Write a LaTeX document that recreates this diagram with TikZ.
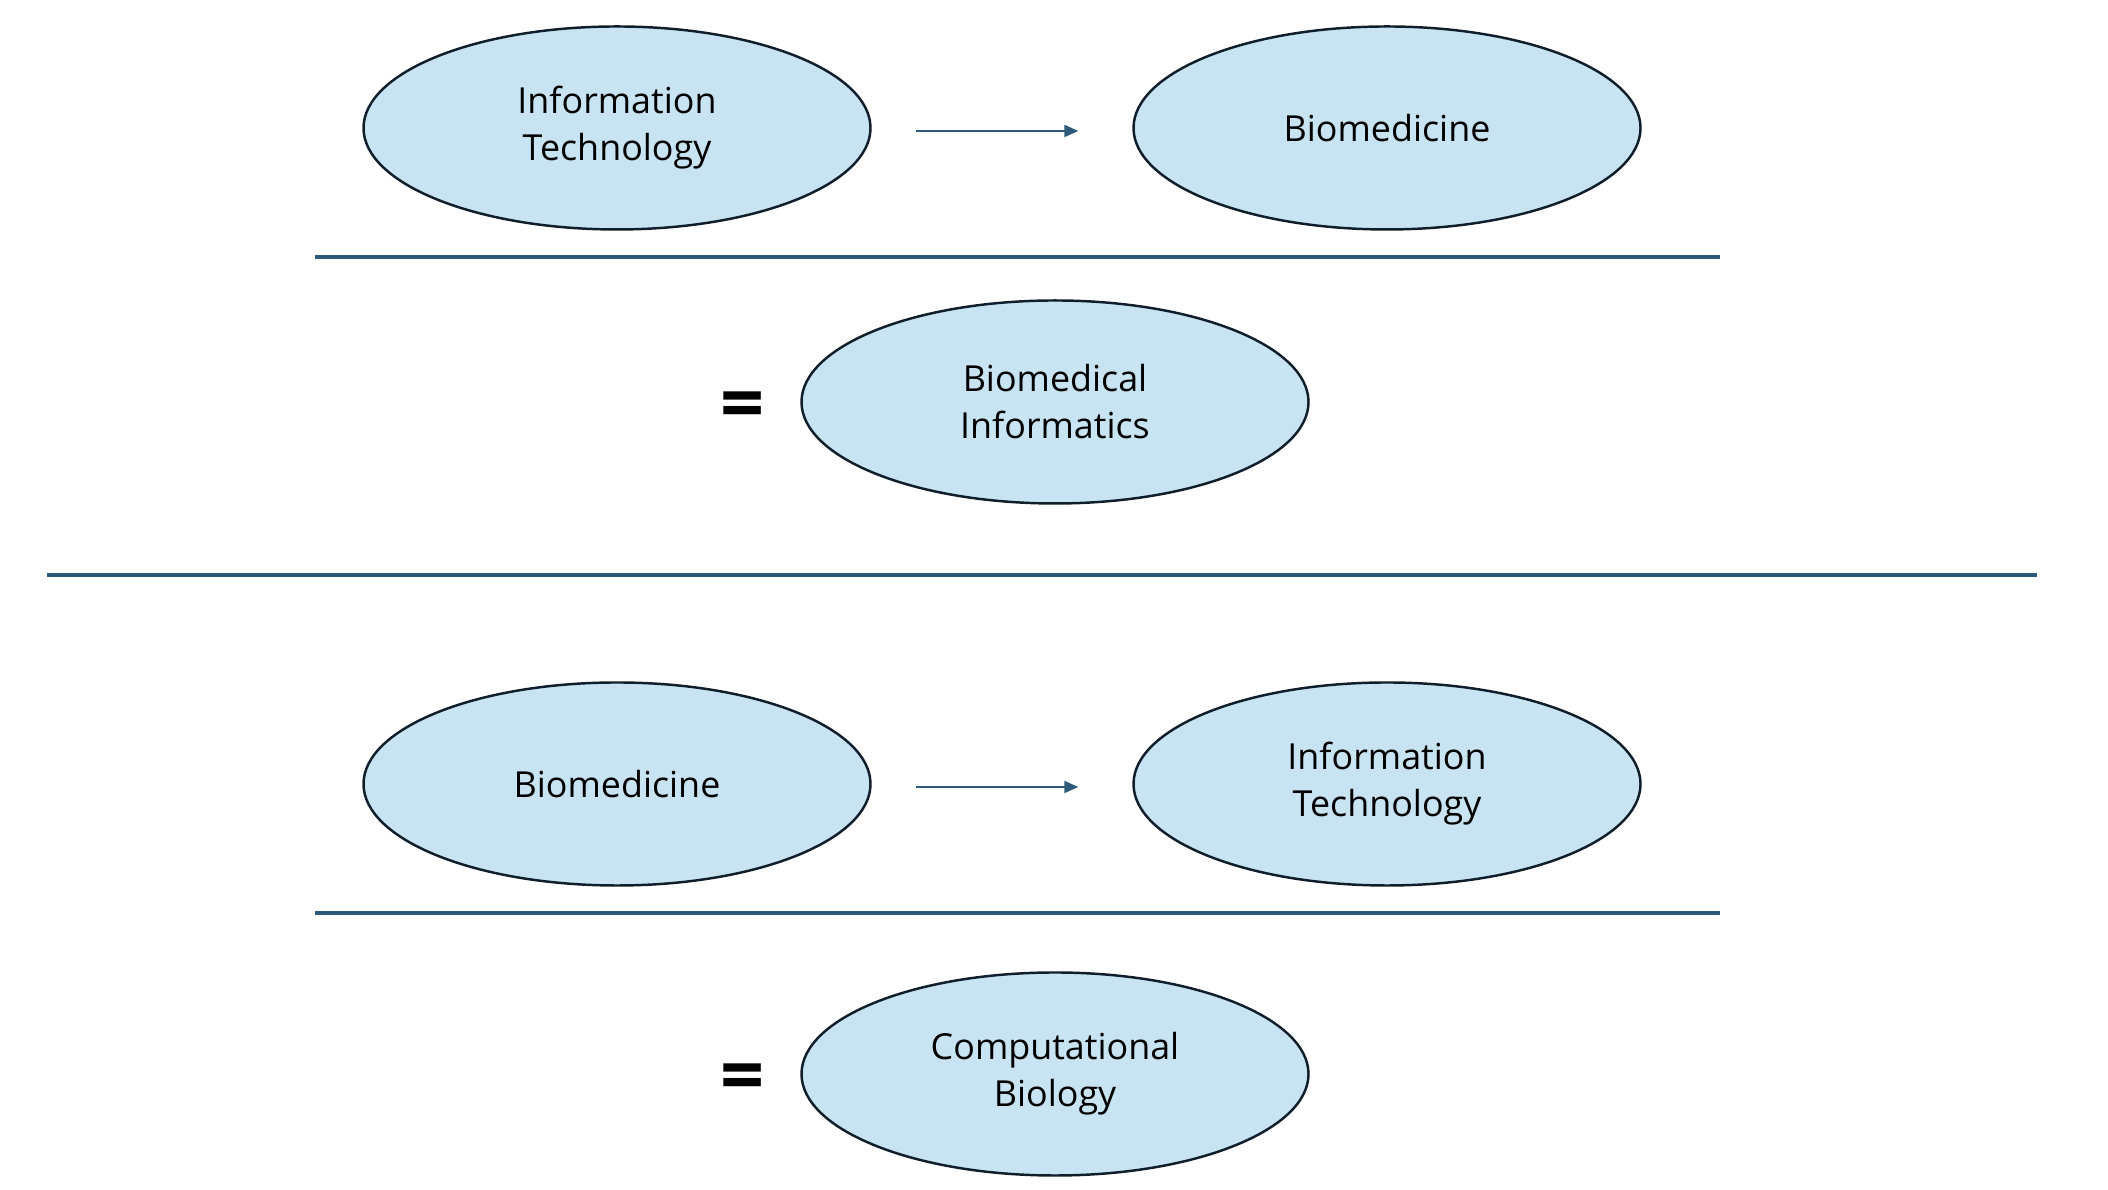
\documentclass[tikz,border=0pt]{standalone}
\usepackage{fontspec}
\setmainfont{Open Sans}
\usetikzlibrary{arrows.meta,positioning,shapes.geometric}
\definecolor{cellfill}{HTML}{C8E3F1}
\definecolor{celledge}{HTML}{0F1E2A}
\definecolor{rulecol}{HTML}{2C5A78}
\tikzset{
  % blue ellipse for each field
  field/.style={draw=celledge, line width=0.7pt, ellipse, fill=cellfill,
  minimum width=5.07cm, minimum height=2.03cm, inner sep=0pt,
  align=center, font=\fontsize{10.2}{13.4}\selectfont},
  eqsign/.style={font=\fontsize{22}{22}\selectfont\bfseries, inner sep=0pt},
  flow/.style={draw=rulecol, line width=0.6pt, -{Triangle[length=1.4mm, width=1.2mm]},
  transform canvas={yshift=-0.03cm}},
  bar/.style={draw=rulecol, line width=0.9pt}}
\begin{document}
\begin{tikzpicture}
\useasboundingbox (0,0) rectangle (21.08,11.90);

\draw (6.17,10.62) node (it1) [field] {Information\\Technology};
\draw (13.87,10.62) node (bm1) [field] {Biomedicine};
\draw [flow, shorten <=0.44cm, shorten >=0.54cm] (it1) -- (bm1);

\draw [bar] (3.15,9.33) -- (17.20,9.33);

\draw (7.43,7.79) node (eq1) [eqsign] {=};
\draw (10.55,7.88) node (bmi) [field] {Biomedical\\Informatics};

%\draw divider between the two cases
\draw [bar] (0.47,6.15) -- (20.37,6.15);

\draw (6.17,4.06) node (bm2) [field] {Biomedicine};
\draw (13.87,4.06) node (it2) [field] {Information\\Technology};
\draw [flow, shorten <=0.44cm, shorten >=0.54cm] (bm2) -- (it2);

\draw [bar] (3.15,2.77) -- (17.20,2.77);

\draw (7.43,1.07) node (eq2) [eqsign] {=};
\draw (10.55,1.16) node (cb) [field] {Computational\\Biology};

\end{tikzpicture}
\end{document}
